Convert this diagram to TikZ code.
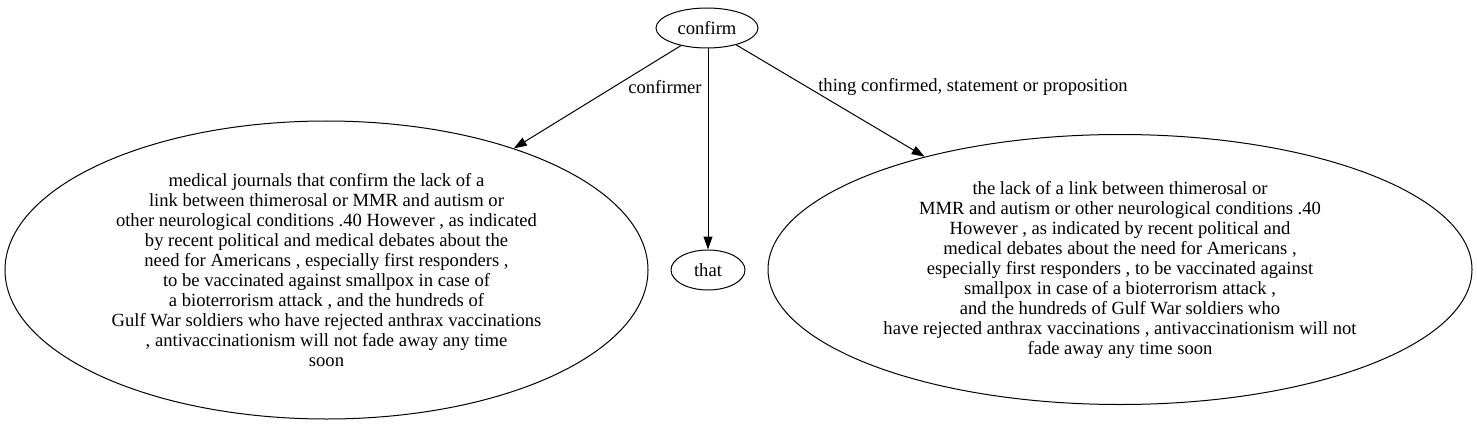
\documentclass[tikz,border=0pt]{standalone}
\usepackage{fontspec}
\setmainfont{Liberation Serif}
\usetikzlibrary{shapes.geometric,arrows.meta,positioning}

\tikzset{
	frame/.style={ellipse, draw, line width=1pt, inner sep=0pt, align=center,
		font=\fontsize{18.6}{20}\selectfont},
	lbl/.style={inner sep=0pt, font=\fontsize{18.6}{20}\selectfont},
	link/.style={line width=1pt, -{Triangle[length=13pt,width=9pt]}}
}

\begin{document}
\begin{tikzpicture}[x=1pt,y=-1pt]
		\useasboundingbox (0,0) rectangle (1477,425);
		
		\node[frame, minimum width=102pt, minimum height=40pt] (confirm) at (707,28) {confirm};
		\node[frame, minimum width=643pt, minimum height=298pt] (confirmer) at (326.5,270)
		{medical journals that confirm the lack of a\\
			link between thimerosal or MMR and autism or\\
			other neurological conditions .40 However , as indicated\\
			by recent political and medical debates about the\\
			need for Americans , especially first responders ,\\
			to be vaccinated against smallpox in case of\\
			a bioterrorism attack , and the hundreds of\\
			Gulf War soldiers who have rejected anthrax vaccinations\\
			, antivaccinationism will not fade away any time\\
			soon};
		\node[frame, minimum width=74pt, minimum height=40pt] (that) at (708,270) {that};
		\node[frame, minimum width=704pt, minimum height=270pt] (thing) at (1120,269.5)
		{the lack of a link between thimerosal or\\
			MMR and autism or other neurological conditions .40\\
			However , as indicated by recent political and\\
			medical debates about the need for Americans ,\\
			especially first responders , to be vaccinated against\\
			smallpox in case of a bioterrorism attack ,\\
			and the hundreds of Gulf War soldiers who\\
			have rejected anthrax vaccinations , antivaccinationism will not\\
			fade away any time soon};
		
		\draw[link] (confirm.214) -- (confirmer.33);
		\draw[link] (confirm.south -| that.north) -- (that.north);
		\draw[link] (confirm.330) -- (thing.150);
		
		\node[lbl] (confirmerlabel) at (665,87) {confirmer};
		\node[lbl] (thinglabel) at (973,87) {thing confirmed, statement or proposition};
	\end{tikzpicture}
\end{document}
